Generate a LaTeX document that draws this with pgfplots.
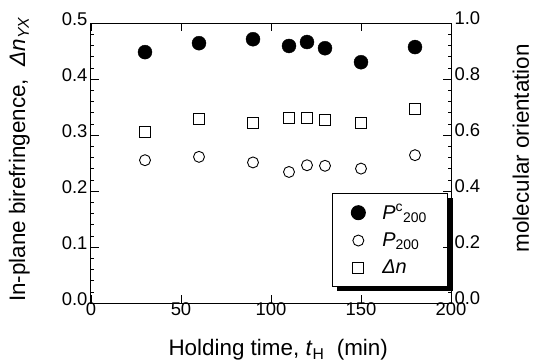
\documentclass[border=0pt]{standalone}
\usepackage{fontspec}
\setmainfont{Liberation Sans}
\usepackage{pgfplots}
\pgfplotsset{compat=1.18}
\usetikzlibrary{shadows}
\newcommand{\legtxt}[1]{\hspace{15bp}#1}
\begin{document}
\begin{tikzpicture}
\path[use as bounding box] (-91bp,-59bp) rectangle (445bp,303bp);
\begin{axis}[
  at={(0,0)}, anchor=south west,
  scale only axis, width=360bp, height=280bp,
  xmin=0, xmax=200, ymin=0, ymax=0.5,
  xtick={0,50,100,150,200}, ytick={0,0.1,0.2,0.3,0.4,0.5},
  minor y tick num=4,
  ytick pos=left,
  tick align=inside,
  axis line style={line width=1bp},
  major tick length=8bp, minor tick length=3bp,
  tick style={line width=0.8bp, black},
  minor tick style={line width=0.5bp},
  /pgf/number format/assume math mode=true,
  yticklabel style={/pgf/number format/.cd, fixed, fixed zerofill, precision=1, /tikz/.cd, yshift=4bp},
  xticklabel style={yshift=4bp},
  ticklabel style={font=\fontsize{18.5}{20}\selectfont},
  label style={font=\fontsize{22.5}{24}\selectfont},
  xlabel={Holding time,\ \textit{t}\textsubscript{H}\ \ (min)},
  ylabel={In-plane birefringence,\ \ \textit{Δn}\textsubscript{\textit{YX}}},
  xlabel style={at={(axis description cs:0.52,-0.168)}, anchor=center},
  ylabel style={at={(axis description cs:-0.199,0.5125)}, anchor=center},
  legend cell align=left,
  legend style={at={(axis description cs:0.669,0.393)}, anchor=north west,
    draw=black, line width=1bp, fill=white,
    drop shadow={shadow xshift=5bp, shadow yshift=-5bp, fill=black, opacity=1},
    font=\fontsize{20}{22}\selectfont, row sep=8bp, inner xsep=19bp, inner ysep=9bp},
]
\addplot[only marks, mark=*, mark size=7bp, black, fill=black]
  coordinates {(30,0.448)(60,0.464)(90,0.471)(110,0.459)(120,0.466)(130,0.455)(150,0.430)(180,0.457)};
\addlegendentry{\legtxt{\textit{P}\textsuperscript{c}\textsubscript{200}}}
\addplot[only marks, mark=o, mark size=5.5bp, black, line width=0.9bp]
  coordinates {(30,0.255)(60,0.261)(90,0.251)(110,0.234)(120,0.246)(130,0.245)(150,0.240)(180,0.264)};
\addlegendentry{\legtxt{\textit{P}\textsubscript{200}}}
\addplot[only marks, mark=square, mark size=5.5bp, black, line width=0.9bp]
  coordinates {(30,0.306)(60,0.329)(90,0.321)(110,0.330)(120,0.331)(130,0.327)(150,0.321)(180,0.346)};
\addlegendentry{\legtxt{\textit{Δn}}}
\end{axis}
\begin{axis}[
  at={(0,0)}, anchor=south west,
  scale only axis, width=360bp, height=280bp,
  xmin=0, xmax=200, ymin=0, ymax=1,
  axis x line=none, axis y line*=right,
  ytick={0,0.2,0.4,0.6,0.8,1.0},
  minor y tick num=4,
  tick align=inside,
  axis line style={line width=1bp},
  major tick length=8bp, minor tick length=3bp,
  tick style={line width=0.8bp, black},
  minor tick style={line width=0.5bp},
  /pgf/number format/assume math mode=true,
  yticklabel style={/pgf/number format/.cd, fixed, fixed zerofill, precision=1, /tikz/.cd, yshift=5bp},
  ticklabel style={font=\fontsize{18.5}{20}\selectfont},
  label style={font=\fontsize{22.5}{24}\selectfont},
  ylabel={molecular orientation},
  ylabel style={at={(axis description cs:1.194,0.553)}, anchor=center},
]
\end{axis}
\end{tikzpicture}
\end{document}
